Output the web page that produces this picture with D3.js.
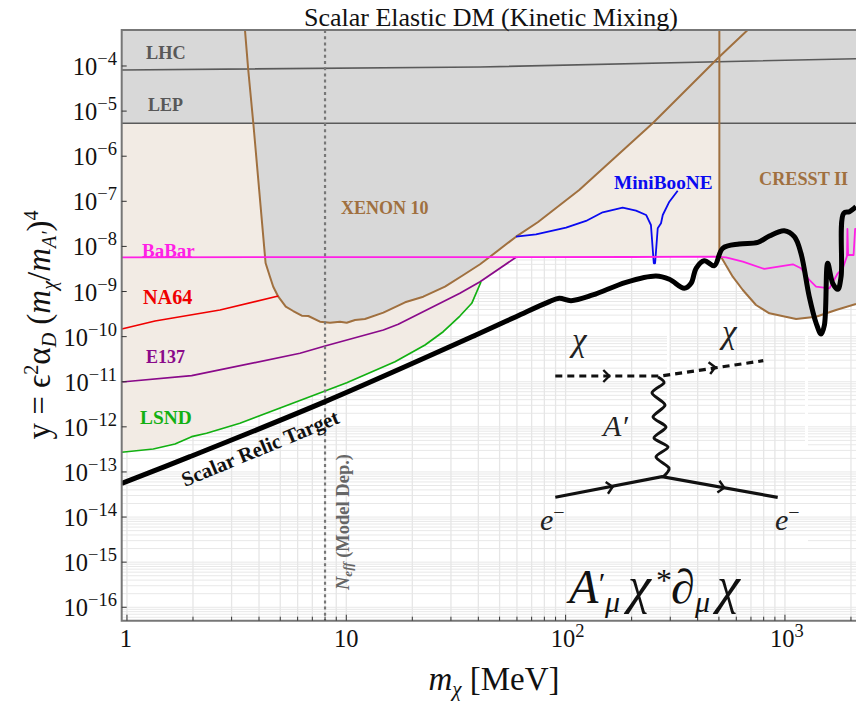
<!DOCTYPE html>
<html>
<head>
<meta charset="utf-8">
<title>Scalar Elastic DM</title>
<script src="https://cdn.jsdelivr.net/npm/d3@7"></script>
<style>
  html, body { margin: 0; background: #fff; }
  svg { display: block; font-family: "Liberation Serif", serif; }
</style>
</head>
<body>
<svg id="chart" width="856" height="701"></svg>
<script>
// every curve is [log10(m_chi / MeV), log10(y)]
const XENON = [[0.538,-3.202],[0.553,-4.089],[0.576,-5.264],[0.632,-8.368],[0.652,-8.672],[0.667,-8.893],[0.690,-9.115],[0.724,-9.336],[0.758,-9.432],[0.797,-9.536],[0.827,-9.543],[0.880,-9.669],[0.926,-9.691],[0.971,-9.669],[1.002,-9.691],[1.040,-9.631],[1.085,-9.609],[1.169,-9.469],[1.268,-9.239],[1.351,-9.115],[1.450,-8.893],[1.534,-8.634],[1.610,-8.396],[1.652,-8.241],[1.774,-7.784],[1.873,-7.465],[2.062,-6.749],[2.397,-5.270],[2.701,-3.794],[2.830,-3.202]];
const CRESST = [[2.701,-3.202],[2.701,-8.234],[2.709,-8.234],[2.762,-8.672],[2.808,-8.966],[2.868,-9.299],[2.929,-9.483],[3.051,-9.609],[3.142,-9.558],[3.233,-9.409],[3.324,-9.276]];
const BABAR = [[-0.024,-8.241],[2.30,-8.235],[2.68,-8.225],[2.731,-8.241],[2.808,-8.339],[2.906,-8.500],[3.036,-8.396],[3.073,-8.485],[3.111,-8.744],[3.142,-8.893],[3.203,-8.928],[3.241,-8.596],[3.264,-8.485],[3.283,-8.213],[3.285,-7.614],[3.288,-8.190],[3.313,-8.190],[3.320,-7.614],[3.324,-7.614]];
const RELIC = [[-0.024,-13.252],[0.287,-12.662],[0.903,-11.442],[1.591,-9.964],[1.774,-9.558],[1.926,-9.225],[1.971,-9.150],[2.025,-9.203],[2.124,-9.077],[2.275,-8.795],[2.412,-8.656],[2.473,-8.729],[2.541,-8.928],[2.572,-8.818],[2.595,-8.485],[2.632,-8.317],[2.678,-8.428],[2.716,-8.042],[2.792,-7.946],[2.876,-7.909],[2.929,-7.769],[2.997,-7.651],[3.043,-7.784],[3.073,-8.152],[3.111,-9.115],[3.142,-9.698],[3.165,-9.942],[3.180,-9.742],[3.195,-8.374],[3.218,-8.818],[3.241,-8.951],[3.256,-8.672],[3.268,-7.266],[3.294,-7.230],[3.324,-7.120]];
const NA64 = [[-0.024,-9.831],[0.128,-9.653],[0.424,-9.410],[0.690,-9.099]];
const E137 = [[-0.024,-11.006],[0.295,-10.866],[0.789,-10.369],[0.903,-10.208],[1.169,-9.853],[1.237,-9.727],[1.518,-9.039],[1.610,-8.782],[1.774,-8.241]];
const LSND = [[-0.024,-12.564],[0.120,-12.491],[0.219,-12.380],[0.295,-12.218],[0.363,-12.143],[0.515,-11.921],[0.903,-11.205],[1.002,-11.021],[1.222,-10.556],[1.359,-10.185],[1.442,-9.891],[1.518,-9.543],[1.572,-9.261],[1.614,-8.789]];
const MINIBOONE = [[1.774,-7.784],[1.865,-7.731],[2.002,-7.585],[2.093,-7.436],[2.169,-7.243],[2.260,-7.142],[2.321,-7.208],[2.367,-7.303],[2.389,-7.525],[2.402,-8.374],[2.408,-8.374],[2.420,-7.598],[2.435,-7.487],[2.443,-7.303],[2.473,-7.009],[2.511,-6.765]];
const LHC = [[-0.024,-4.089],[1.610,-4.022],[3.324,-3.838]];
const LEP = [[-0.024,-5.27],[3.324,-5.27]];
const NEFF_MASS = 8;
const X_TICKS = [1, 10, 100, 1000];
const Y_EXPONENTS = [-4,-5,-6,-7,-8,-9,-10,-11,-12,-13,-14,-15,-16];

const GRAY = "#d8d8d8", TAN = "#f2ebe4", BROWN = "#a0703f", FRAME = "#777";

const svg = d3.select("#chart");
const left = 121.7, right = 856, top_ = 30, bottom = 620.7;

const x = d3.scaleLog().domain([10 ** -0.024, 10 ** 3.324]).range([left, right]);
const y = d3.scaleLog().domain([10 ** -16.298, 10 ** -3.202]).range([bottom, top_]);

const line = d3.line().x((d) => x(10 ** d[0])).y((d) => y(10 ** d[1]));
const smooth = d3.line().x((d) => x(10 ** d[0])).y((d) => y(10 ** d[1])).curve(d3.curveCatmullRom.alpha(0.5));

svg.append("clipPath").attr("id", "plot").append("rect")
  .attr("x", left).attr("y", top_).attr("width", right - left).attr("height", bottom - top_);

const plot = svg.append("g").attr("clip-path", "url(#plot)");

// log grid
const xGrid = [], yGrid = [];
for (let e = 0; e <= 3; e++) for (let k = 1; k < 10; k++) xGrid.push(k * 10 ** e);
for (let e = -17; e <= -4; e++) for (let k = 1; k < 10; k++) yGrid.push(k * 10 ** e);
plot.append("g").selectAll("line").data(yGrid).join("line")
  .attr("x1", left).attr("x2", right).attr("y1", (d) => y(d)).attr("y2", (d) => y(d))
  .attr("stroke", "#e8e8e8").attr("stroke-width", 1);

// the pasted diagram image leaves white seams across the horizontal grid
[[667, 333, 4, 109], [805, 333, 3, 112], [667, 442, 141, 5], [670, 540, 138, 8]].forEach(([a, b, w, h]) => {
  plot.append("rect").attr("x", a).attr("y", b).attr("width", w).attr("height", h).attr("fill", "#fff");
});

plot.append("g").selectAll("line").data(xGrid).join("line")
  .attr("x1", (d) => x(d)).attr("x2", (d) => x(d)).attr("y1", top_).attr("y2", bottom)
  .attr("stroke", "#e6e6e6").attr("stroke-width", 1.3);

// excluded regions
const tanEdge = LSND.concat([E137[E137.length - 1]], BABAR.slice(1, 3), [[2.701, -8.24], [2.701, -5.27], [-0.024, -5.27]]);
plot.append("path").attr("d", line(tanEdge) + "Z").attr("fill", TAN);
plot.append("path").attr("d", line([[-0.024,-3.202],[3.324,-3.202],[3.324,-5.27],[-0.024,-5.27]]) + "Z").attr("fill", GRAY);
plot.append("path").attr("d", line(XENON) + "Z").attr("fill", GRAY);
plot.append("path").attr("d", line(CRESST.concat([[3.324,-3.202]])) + "Z").attr("fill", GRAY);

// limit curves
const curves = [
  [LHC, "#5a5a5a", 1.6], [LEP, "#5a5a5a", 1.6],
  [XENON, BROWN, 2], [CRESST, BROWN, 2],
  [NA64, "#f00000", 1.7], [E137, "#8a0a8a", 1.7], [LSND, "#12b012", 1.7],
  [MINIBOONE, "#0a0af0", 1.8], [BABAR, "#ff1fe6", 1.8],
];
curves.forEach(([d, c, w]) => {
  plot.append("path").attr("d", line(d)).attr("fill", "none").attr("stroke", c)
    .attr("stroke-width", w).attr("stroke-linejoin", "round");
});

plot.append("line").attr("x1", x(NEFF_MASS)).attr("x2", x(NEFF_MASS)).attr("y1", top_).attr("y2", bottom)
  .attr("stroke", "#777").attr("stroke-width", 2.2).attr("stroke-dasharray", "3,3.2");

// Feynman diagram
const diagram = svg.append("g").attr("fill", "none").attr("stroke", "#111");
diagram.append("path").attr("d", "M555.3,376L661,376L763.3,360.7").attr("stroke-width", 3.2).attr("stroke-dasharray", "7,5");
diagram.append("path").attr("d", "M555.3,497.3L662,476.7L777.7,497.3").attr("stroke-width", 3.2);
[[609.3,376,0],[715.3,367.3,-8],[612.7,486.7,-11],[724.3,487.7,10]].forEach(([px, py, a]) => {
  diagram.append("path").attr("d", "M-6,-6L0,0L-6,6").attr("stroke-width", 2.4)
    .attr("transform", `translate(${px},${py}) rotate(${a})`);
});
const wiggle = [[658,377],[664,383],[652,393],[665,405],[653,417],[666,427],[654,438],[668,447],[656,457],[669,468],[663,477]];
diagram.append("path").attr("d", d3.line().curve(d3.curveCardinal.tension(0.2))(wiggle)).attr("stroke-width", 3);

// black relic line sits on top of everything
plot.append("path").attr("d", smooth(RELIC)).attr("fill", "none").attr("stroke", "#000")
  .attr("stroke-width", 5).attr("stroke-linejoin", "round");

// frame and ticks
const frame = svg.append("g").attr("stroke", FRAME).attr("fill", "none");
frame.append("path").attr("d", `M${right},${top_}H${left}V${bottom}H${right}`).attr("stroke-width", 2);
frame.selectAll("line.xt").data(xGrid.filter((d) => x(d) < right)).join("line")
  .attr("x1", (d) => x(d)).attr("x2", (d) => x(d)).attr("y1", bottom)
  .attr("y2", (d) => bottom - (X_TICKS.includes(d) ? 6 : 4)).attr("stroke", "#333").attr("stroke-width", 1);
frame.selectAll("line.yt").data(Y_EXPONENTS).join("line")
  .attr("y1", (d) => y(10 ** d)).attr("y2", (d) => y(10 ** d)).attr("x1", left)
  .attr("x2", left + 5).attr("stroke", "#333").attr("stroke-width", 1);

// mixed text: parts are [string, {i, size, dy, x}]
function rich(px, py, parts, opts = {}) {
  const t = svg.append("text").attr("x", px).attr("y", py)
    .attr("font-size", opts.size || 21).attr("fill", opts.fill || "#111")
    .attr("text-anchor", opts.anchor || "start");
  if (opts.bold) t.attr("font-weight", "bold");
  if (opts.rotate != null) t.attr("transform", `rotate(${opts.rotate},${px},${py})`);
  parts.forEach((p) => {
    const [s, o] = typeof p === "string" ? [p, {}] : p;
    const ts = t.append("tspan").text(s);
    if (o.i) ts.attr("font-style", "italic");
    if (o.size) ts.attr("font-size", o.size);
    if (o.dy) ts.attr("dy", o.dy);
    if (o.x) ts.attr("x", o.x);
  });
  return t;
}

Y_EXPONENTS.forEach((e) => {
  rich(117, y(10 ** e) + 9, ["10", [`\u2212${-e}`, { size: 18.5, dy: -10 }]], { anchor: "end", size: 24.5 });
});
rich(x(1) - 1, 647, ["1"], { anchor: "middle", size: 24.5 });
rich(x(10), 647, ["10"], { anchor: "middle", size: 24.5 });
rich(x(100) + 2, 647, ["10", ["2", { size: 18.5, dy: -10 }]], { anchor: "middle", size: 24.5 });
rich(x(1000) + 2, 647, ["10", ["3", { size: 18.5, dy: -10 }]], { anchor: "middle", size: 24.5 });

rich(491, 26, ["Scalar Elastic DM (Kinetic Mixing)"], { anchor: "middle", size: 26 });
rich(494, 690, [["m", { i: 1 }], ["\u03c7", { i: 1, size: 21, dy: 6 }], [" [MeV]", { dy: -6 }]], { anchor: "middle", size: 33 });
rich(50, 325, ["y = \u03f5", ["2", { size: 20, dy: -12 }], ["\u03b1", { dy: 12 }], ["D", { i: 1, size: 20, dy: 6 }],
  [" (", { dy: -6 }], ["m", { i: 1 }], ["\u03c7", { i: 1, size: 20, dy: 6 }], ["/", { dy: -6 }], ["m", { i: 1 }],
  ["A\u2032", { i: 1, size: 20, dy: 6 }], [")", { dy: -6 }], ["4", { size: 20, dy: -12 }]],
  { anchor: "middle", size: 33, rotate: -90 });

// region labels
const labels = [
  ["LHC", 146, 59, 18.3, "#585858"], ["LEP", 148, 111, 18, "#585858"],
  ["XENON 10", 341, 214, 18, BROWN], ["CRESST II", 759, 185, 18.2, BROWN],
  ["MiniBooNE", 614, 189, 19.3, "#0a0af0"], ["BaBar", 142, 257, 19, "#ff1fe6"],
  ["NA64", 143, 304, 20.2, "#f00000"], ["E137", 146, 363, 18, "#8a0a8a"], ["LSND", 140, 424, 19.4, "#12b012"],
];
labels.forEach(([s, px, py, size, c]) => rich(px, py, [s], { size, fill: c, bold: true }));
rich(185, 487, ["Scalar Relic Target"], { size: 20.7, bold: true, fill: "#111", rotate: -22.5 });
rich(349, 590, [["N", { i: 1 }], ["eff", { i: 1, size: 13, dy: 3 }], [" (Model Dep.)", { dy: -3 }]],
  { size: 18.5, bold: true, fill: "#666", rotate: -90 });

// diagram and Lagrangian text
rich(572, 351, [["\u03c7", { i: 1 }]], { size: 33, fill: "#222" });
rich(722, 343, [["\u03c7", { i: 1 }]], { size: 33, fill: "#222" });
rich(603, 436, [["A\u2032", { i: 1 }]], { size: 30, fill: "#222" });
rich(540, 530, [["e", { i: 1 }], ["\u2212", { size: 20, dy: -11 }]], { size: 30, fill: "#222" });
rich(775, 530, [["e", { i: 1 }], ["\u2212", { size: 20, dy: -11 }]], { size: 30, fill: "#222" });
rich(569, 603, [["A", { i: 1 }], ["\u2032", { i: 1, size: 30, dy: -10, x: 597 }], ["\u03bc", { i: 1, size: 30, dy: 19, x: 605 }], ["\u03c7", { i: 1, size: 52, dy: -9, x: 628 }],
  ["*", { size: 32, dy: -12, x: 656 }], ["\u2202", { i: 1, dy: 12, x: 671 }], ["\u03bc", { i: 1, size: 30, dy: 9, x: 695 }], ["\u03c7", { i: 1, size: 52, dy: -9, x: 717 }]],
  { size: 48, fill: "#111" });
</script>
</body>
</html>
